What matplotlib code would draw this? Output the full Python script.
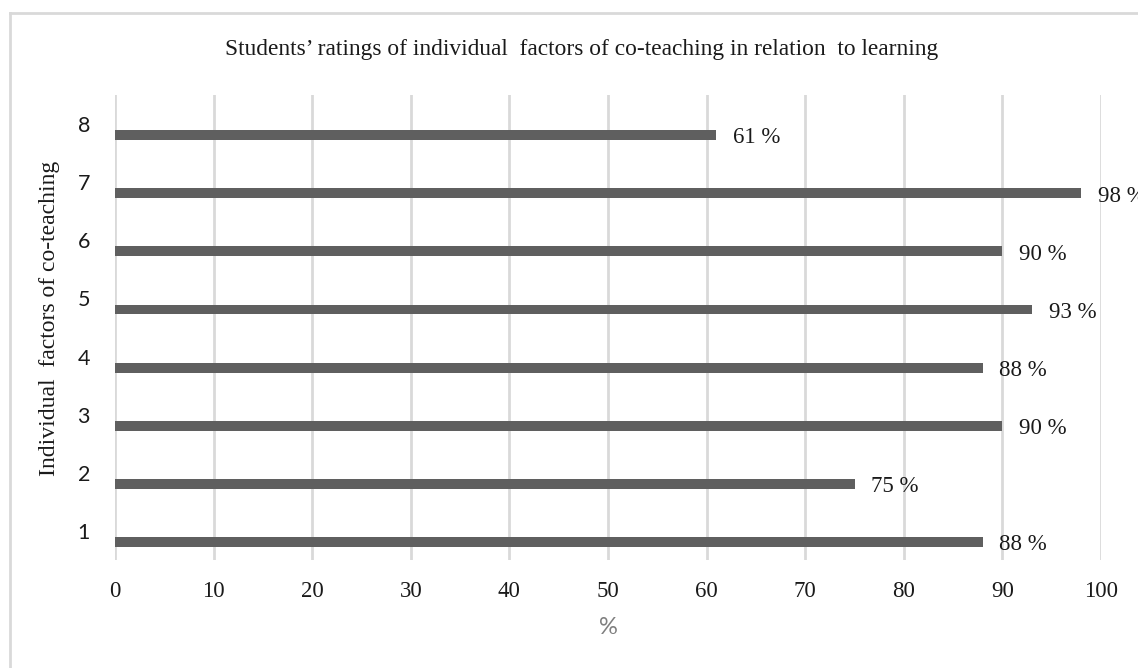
import matplotlib
matplotlib.use("Agg")
import matplotlib.pyplot as plt
from matplotlib.lines import Line2D

categories = [1, 2, 3, 4, 5, 6, 7, 8]
values = [88, 75, 90, 88, 93, 90, 98, 61]
x_ticks = [0, 10, 20, 30, 40, 50, 60, 70, 80, 90, 100]
title = "Students\u2019 ratings of individual  factors of co-teaching in relation  to learning"
ylabel = "Individual  factors of co-teaching"
xlabel = "%"

W, H = 1138, 668
fig = plt.figure(figsize=(W / 100, H / 100), dpi=100)
ax = fig.add_axes([115 / W, 1 - 560 / H, (1101 - 115) / W, (560 - 95) / H])

serif = ["Liberation Serif", "DejaVu Serif"]
sans = ["Lato", "DejaVu Sans"]
bar_color = "#5f5f5f"
grid_color = "#d9d9d9"

ypos = [c - 0.19 for c in categories]
ax.barh(ypos, values, height=0.17, color=bar_color, zorder=3)

for y, v in zip(ypos, values):
    ax.annotate(f"{v} %", xy=(v, y), xytext=(12, -2), textcoords="offset points",
                ha="left", va="center", fontsize=16.5, family=serif, color="#1a1a1a",
                annotation_clip=False, zorder=4)

ax.set_xlim(0, 100)
ax.set_ylim(0.5, 8.5)
ax.set_xticks(x_ticks)
ax.set_xticklabels([str(t) for t in x_ticks], family=serif, fontsize=16.5, color="#1a1a1a")
ax.set_yticks(categories)
ax.set_yticklabels([str(c) for c in categories], family=sans, fontsize=15.5, color="#1a1a1a")
ax.tick_params(axis="both", length=0)
ax.tick_params(axis="x", pad=15)
ax.tick_params(axis="y", pad=18)
ax.xaxis.grid(True, color=grid_color, linewidth=2, zorder=0)
ax.set_axisbelow(True)
for s in ax.spines.values():
    s.set_visible(False)

fig.text(582 / W, 1 - 50 / H, title, ha="center", va="center", family=serif, fontsize=16.8, color="#1a1a1a")
fig.text(50 / W, 1 - 318 / H, ylabel, ha="center", va="center", rotation=90, family=serif, fontsize=17, color="#1a1a1a")
fig.text(608 / W, 1 - 628 / H, xlabel, ha="center", va="center", family=sans, fontsize=17, color="#7f7f7f")

# outer chart frame (top and left edges visible)
fig.add_artist(Line2D([10 / W, 1], [1 - 13 / H, 1 - 13 / H], transform=fig.transFigure, color=grid_color, linewidth=2))
fig.add_artist(Line2D([10 / W, 10 / W], [0, 1 - 13 / H], transform=fig.transFigure, color=grid_color, linewidth=2))

fig.savefig("out.png", dpi=100, facecolor="white")
